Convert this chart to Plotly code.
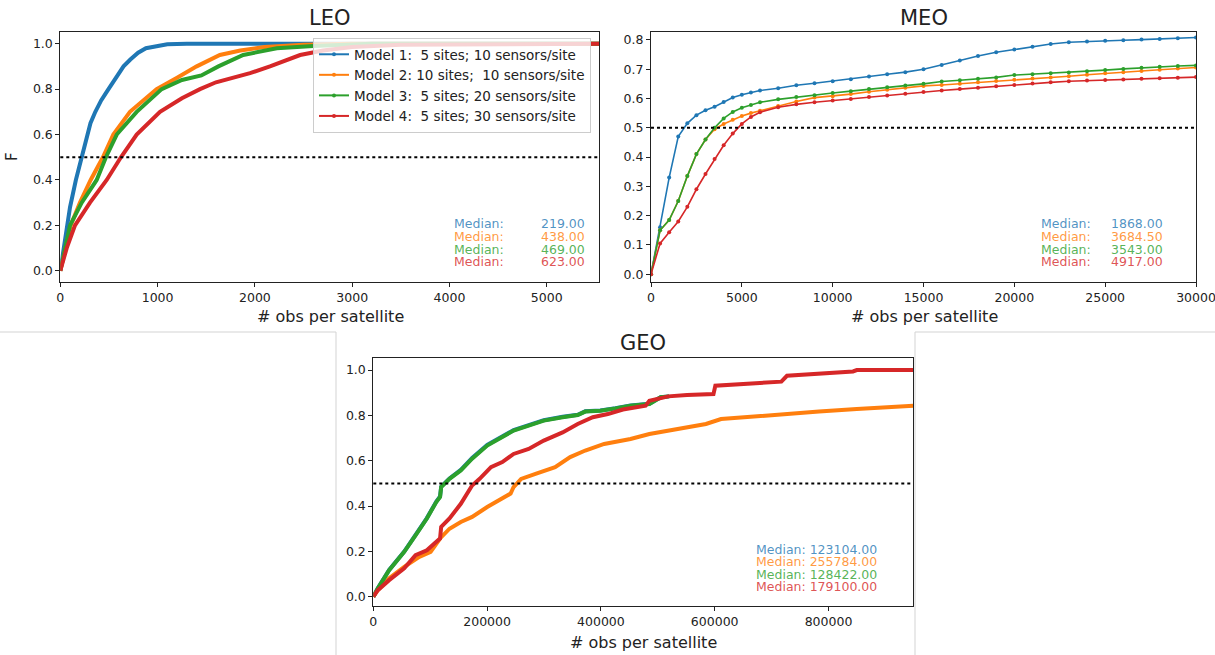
import plotly.graph_objects as go

# ---------------- data ----------------
models = ["Model 1:\u00a0\u00a05 sites; 10 sensors/site",
          "Model 2: 10 sites;\u00a0\u00a010 sensors/site",
          "Model 3:\u00a0\u00a05 sites; 20 sensors/site",
          "Model 4:\u00a0\u00a05 sites; 30 sensors/site"]
colors = ["#1f77b4", "#ff7f0e", "#2ca02c", "#d62728"]

# LEO
leo_x1 = [0, 40, 100, 160, 219, 260, 310, 360, 420, 480, 560, 650, 720, 800, 880, 990, 1100, 1300, 2000, 5540]
leo_y1 = [0, 0.12, 0.28, 0.40, 0.50, 0.58, 0.65, 0.70, 0.75, 0.79, 0.84, 0.90, 0.93, 0.96, 0.98, 0.99, 0.997, 1.0, 1.0, 1.0]
leo_x2 = [0, 50, 107, 202, 312, 438, 545, 716, 990, 1200, 1402, 1640, 1850, 2100, 2500, 3000, 5540]
leo_y2 = [0, 0.10, 0.20, 0.30, 0.40, 0.50, 0.60, 0.70, 0.80, 0.85, 0.90, 0.95, 0.97, 0.985, 0.995, 1.0, 1.0]
leo_x3 = [0, 45, 100, 220, 374, 469, 580, 785, 1042, 1250, 1450, 1625, 1880, 2225, 2600, 3200, 5540]
leo_y3 = [0, 0.10, 0.20, 0.30, 0.40, 0.50, 0.60, 0.70, 0.80, 0.84, 0.86, 0.90, 0.95, 0.98, 0.99, 1.0, 1.0]
leo_x4 = [0, 30, 66, 151, 305, 477, 623, 785, 1025, 1250, 1436, 1600, 1775, 1950, 2155, 2465, 2700, 3000, 3500, 5540]
leo_y4 = [0, 0.05, 0.10, 0.20, 0.30, 0.40, 0.50, 0.60, 0.70, 0.76, 0.80, 0.83, 0.85, 0.87, 0.90, 0.95, 0.97, 0.985, 0.995, 1.0]
leo_medians = ["219.00", "438.00", "469.00", "623.00"]

# MEO (x positions of the sampled points are shared)
meo_x = [0, 500, 1000, 1500, 2000, 2500, 3000, 3500, 4000, 4500, 5000, 5500, 6000, 7000, 8000, 9000, 10000,
         11000, 12000, 13000, 14000, 15000, 16000, 17000, 18000, 19000, 20000, 21000, 22000, 23000, 24000,
         25000, 26000, 27000, 28000, 29000, 30000]
meo_y1 = [0, 0.16, 0.33, 0.47, 0.515, 0.543, 0.56, 0.572, 0.588, 0.603, 0.613, 0.620, 0.627, 0.635, 0.645, 0.652, 0.659,
          0.666, 0.675, 0.683, 0.690, 0.700, 0.714, 0.730, 0.745, 0.758, 0.767, 0.777, 0.786, 0.792, 0.795,
          0.797, 0.799, 0.801, 0.803, 0.806, 0.808]
meo_y2 = [0, 0.15, 0.185, 0.25, 0.335, 0.41, 0.46, 0.495, 0.513, 0.527, 0.54, 0.55, 0.558, 0.574, 0.59, 0.603, 0.608,
          0.615, 0.623, 0.63, 0.637, 0.643, 0.646, 0.65, 0.655, 0.66, 0.664, 0.668, 0.672, 0.676, 0.681,
          0.686, 0.69, 0.694, 0.698, 0.702, 0.706]
meo_y3 = [0, 0.15, 0.185, 0.25, 0.335, 0.41, 0.46, 0.50, 0.532, 0.554, 0.568, 0.578, 0.587, 0.597, 0.605, 0.611, 0.619,
          0.625, 0.632, 0.638, 0.644, 0.65, 0.658, 0.662, 0.667, 0.672, 0.68, 0.683, 0.686, 0.689, 0.693,
          0.697, 0.701, 0.705, 0.708, 0.711, 0.713]
meo_y4 = [0, 0.105, 0.143, 0.18, 0.23, 0.29, 0.342, 0.393, 0.44, 0.48, 0.513, 0.537, 0.553, 0.57, 0.58, 0.587, 0.593,
          0.598, 0.605, 0.61, 0.616, 0.622, 0.627, 0.632, 0.637, 0.642, 0.646, 0.651, 0.655, 0.659, 0.661,
          0.663, 0.665, 0.667, 0.669, 0.671, 0.673]
meo_medians = ["1868.00", "3684.50", "3543.00", "4917.00"]

# GEO
geo_x3 = [0, 7954, 27837, 54350, 74234, 94118, 110688, 117316, 119300, 133900, 153770, 173650, 200170, 226700, 246540, 273050, 299560, 332700, 359200, 372500, 399000, 425500, 452000, 485200, 505000, 520000]
geo_y3 = [0, 0.037, 0.117, 0.198, 0.271, 0.345, 0.418, 0.440, 0.484, 0.520, 0.557, 0.609, 0.667, 0.704, 0.733, 0.755, 0.777, 0.792, 0.802, 0.817, 0.821, 0.831, 0.843, 0.850, 0.880, 0.884]
geo_x1 = geo_x3
geo_y1 = [0, 0.037, 0.118, 0.199, 0.273, 0.347, 0.420, 0.442, 0.486, 0.522, 0.560, 0.612, 0.670, 0.707, 0.735, 0.757, 0.779, 0.794, 0.803, 0.818, 0.822, 0.832, 0.844, 0.851, 0.880, 0.884]
geo_x2 = [0, 7954, 27837, 54350, 80860, 100700, 117316, 133900, 153770, 173650, 200170, 226700, 241300, 246540, 259800, 286300, 319500, 346000, 372500, 405700, 452000, 485200, 518300, 551400, 584600, 611100, 650800, 717100, 783300, 849700, 949000]
geo_y2 = [0, 0.029, 0.081, 0.132, 0.176, 0.198, 0.257, 0.300, 0.330, 0.352, 0.396, 0.433, 0.455, 0.484, 0.520, 0.543, 0.572, 0.616, 0.645, 0.674, 0.696, 0.718, 0.733, 0.748, 0.762, 0.784, 0.792, 0.806, 0.817, 0.828, 0.843]
geo_x4 = [0, 7954, 27837, 54350, 74234, 94118, 107370, 117316, 119300, 133900, 153770, 173650, 186900, 206800, 226700, 246540, 273050, 299560, 332700, 359200, 385700, 412200, 438700, 478500, 485200, 518300, 551400, 597800, 601100, 650800, 717100, 727000, 783300, 843000, 849700, 949000]
geo_y4 = [0, 0.029, 0.073, 0.125, 0.183, 0.205, 0.235, 0.257, 0.308, 0.345, 0.410, 0.491, 0.520, 0.572, 0.594, 0.630, 0.652, 0.689, 0.725, 0.762, 0.792, 0.806, 0.826, 0.843, 0.865, 0.884, 0.890, 0.894, 0.931, 0.938, 0.949, 0.975, 0.985, 0.994, 1.0, 1.0]
geo_medians = ["123104.00", "255784.00", "128422.00", "179100.00"]

W, H = 1215, 655
def px(x): return x / W
def py(y): return 1 - y / H

FONT = "DejaVu Sans"
fig = go.Figure()

leo = [(leo_x1, leo_y1), (leo_x2, leo_y2), (leo_x3, leo_y3), (leo_x4, leo_y4)]
meo = [(meo_x, meo_y1), (meo_x, meo_y2), (meo_x, meo_y3), (meo_x, meo_y4)]
geo = [(geo_x1, geo_y1), (geo_x2, geo_y2), (geo_x3, geo_y3), (geo_x4, geo_y4)]

for i, (x, y) in enumerate(leo):
    fig.add_trace(go.Scatter(x=x, y=y, mode="lines", line=dict(color=colors[i], width=4),
                             xaxis="x", yaxis="y", showlegend=False, hoverinfo="skip"))
for i, (x, y) in enumerate(meo):
    fig.add_trace(go.Scatter(x=x, y=y, mode="lines+markers", line=dict(color=colors[i], width=1.6),
                             marker=dict(size=4, color=colors[i]),
                             xaxis="x2", yaxis="y2", showlegend=False, hoverinfo="skip"))
for i, (x, y) in enumerate(geo):
    fig.add_trace(go.Scatter(x=x, y=y, mode="lines", line=dict(color=colors[i], width=4),
                             xaxis="x3", yaxis="y3", showlegend=False, hoverinfo="skip"))
# legend entries
for i, name in enumerate(models):
    fig.add_trace(go.Scatter(x=[None], y=[None], mode="lines+markers", name=name,
                             line=dict(color=colors[i], width=2), marker=dict(size=4, color=colors[i]),
                             xaxis="x", yaxis="y"))

axcommon = dict(showline=True, mirror=True, linecolor="#222", linewidth=1, ticks="outside",
                ticklen=4, tickcolor="#222", showgrid=False, zeroline=False,
                automargin=False, ticklabeloverflow="allow",
                tickfont=dict(family=FONT, size=12.5, color="#222"))

leo_dom_x = [px(60.3), px(599.3)]
meo_dom_x = [px(651), px(1196)]
top_dom_y = [py(281.5), py(32.3)]
geo_dom_x = [px(373.3), px(913.3)]
geo_dom_y = [py(606), py(358.3)]

fig.update_layout(
    width=W, height=H, margin=dict(l=0, r=0, t=0, b=0, autoexpand=False),
    paper_bgcolor="white", plot_bgcolor="white",
    font=dict(family=FONT, color="#222"),
    xaxis=dict(domain=leo_dom_x, anchor="y", range=[0, 5540], tickvals=[0, 1000, 2000, 3000, 4000, 5000], **axcommon),
    yaxis=dict(domain=top_dom_y, anchor="x", range=[-0.047, 1.05], tickvals=[0, 0.2, 0.4, 0.6, 0.8, 1.0], tickformat=".1f", **axcommon),
    xaxis2=dict(domain=meo_dom_x, anchor="y2", range=[0, 30000], tickvals=[0, 5000, 10000, 15000, 20000, 25000, 30000], tickformat="d", **axcommon),
    yaxis2=dict(domain=top_dom_y, anchor="x2", range=[-0.025, 0.826], tickvals=[0, 0.1, 0.2, 0.3, 0.4, 0.5, 0.6, 0.7, 0.8], tickformat=".1f", **axcommon),
    xaxis3=dict(domain=geo_dom_x, anchor="y3", range=[0, 949000], tickvals=[0, 200000, 400000, 600000, 800000], tickformat="d", **axcommon),
    yaxis3=dict(domain=geo_dom_y, anchor="x3", range=[-0.041, 1.052], tickvals=[0, 0.2, 0.4, 0.6, 0.8, 1.0], tickformat=".1f", **axcommon),
    legend=dict(x=px(313), y=py(38), xanchor="left", yanchor="top",
                bgcolor="rgba(255,255,255,0.8)", bordercolor="#cccccc", borderwidth=1,
                font=dict(family=FONT, size=13.5, color="#222"), tracegroupgap=0,
                itemwidth=30),
)

# dotted median reference lines
for xr, yr in [("x", "y"), ("x2", "y2"), ("x3", "y3")]:
    fig.add_shape(type="line", xref=xr + " domain", yref=yr, x0=0, x1=1, y0=0.5, y1=0.5,
                  line=dict(color="black", width=2, dash="dot"))

# separator lines (panel frame)
sep = dict(color="#d3d3d3", width=1)
fig.add_shape(type="line", xref="paper", yref="paper", x0=0, x1=px(336), y0=py(332), y1=py(332), line=sep)
fig.add_shape(type="line", xref="paper", yref="paper", x0=px(915), x1=1, y0=py(332), y1=py(332), line=sep)
fig.add_shape(type="line", xref="paper", yref="paper", x0=px(336), x1=px(336), y0=py(332), y1=0, line=sep)
fig.add_shape(type="line", xref="paper", yref="paper", x0=px(915), x1=px(915), y0=py(332), y1=0, line=sep)

def txt(x, y, s, size, xanchor="center", color="#222", angle=0, pad=1):
    fig.add_annotation(x=px(x), y=py(y), xref="paper", yref="paper", text=s, showarrow=False,
                       xanchor=xanchor, yanchor="middle", textangle=angle, borderpad=pad,
                       font=dict(family=FONT, size=size, color=color))

# titles
txt(330, 18, "LEO", 21)
txt(924, 18, "MEO", 21)
txt(643, 343, "GEO", 21)
# axis labels
txt(330, 317, "# obs per satellite", 16)
txt(924, 317, "# obs per satellite", 16)
txt(643, 642, "# obs per satellite", 16)
txt(12, 157, "F", 15, angle=-90)

# median texts
med_colors = ["rgba(31,119,180,0.8)", "rgba(255,127,14,0.8)", "rgba(44,160,44,0.8)", "rgba(214,39,40,0.8)"]
top_rows = [224, 236.5, 249, 261.5]
geo_rows = [549, 561.5, 574, 586.5]
for i in range(4):
    txt(453, top_rows[i], "Median:", 12.5, "left", med_colors[i], pad=0)
    txt(586, top_rows[i], leo_medians[i], 12.5, "right", med_colors[i], pad=0)
    txt(1040, top_rows[i], "Median:", 12.5, "left", med_colors[i], pad=0)
    txt(1164, top_rows[i], meo_medians[i], 12.5, "right", med_colors[i], pad=0)
    txt(755, geo_rows[i], "Median: " + geo_medians[i], 12.5, "left", med_colors[i], pad=0)

fig.write_html("out.html", config={"displayModeBar": False},
               post_script="document.body.style.margin='0';document.body.style.overflow='hidden';")
